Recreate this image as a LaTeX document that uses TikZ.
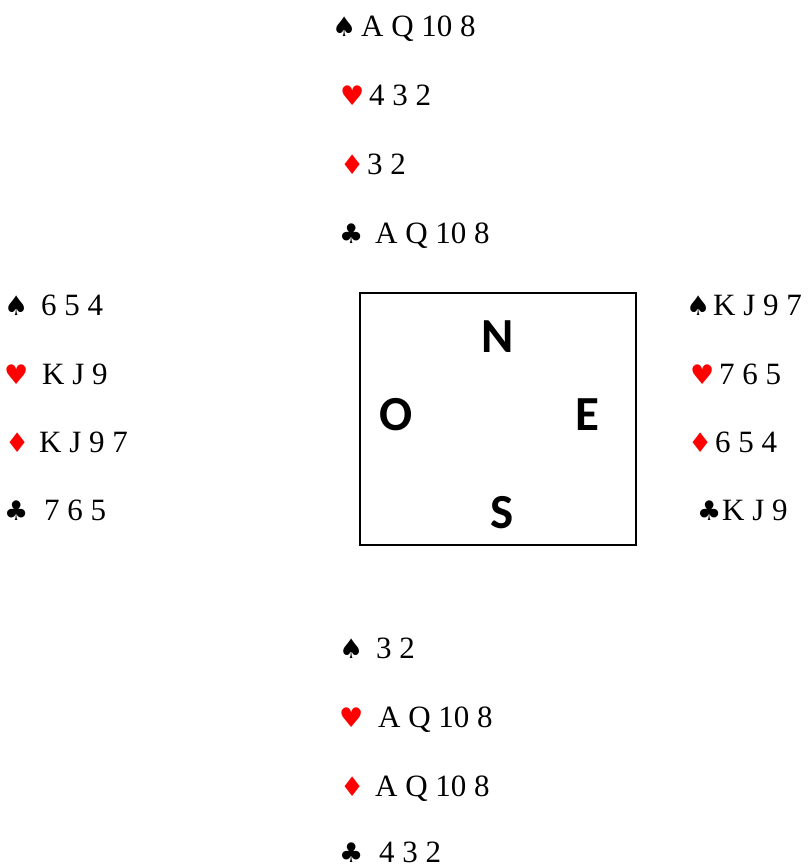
\documentclass[tikz,border=0pt]{standalone}
\usepackage{fontspec}
\setmainfont{Liberation Serif}
\newfontfamily\suitfont{DejaVu Sans}
\newfontfamily\compfont{Carlito}
\tikzset{
  cards/.style={anchor=base west, inner sep=0pt, font=\fontsize{31}{31}\selectfont},
  suit/.style={anchor=base west, inner sep=0pt, font=\suitfont\fontsize{27}{27}\selectfont},
  redsuit/.style={suit, text=red},
  dir/.style={anchor=center, inner sep=0pt, font=\compfont\bfseries\fontsize{49}{49}\selectfont},
  tablebox/.style={draw, line width=1.3pt, minimum width=276pt, minimum height=252pt, inner sep=0pt}
}
\begin{document}
\begin{tikzpicture}[x=1pt,y=-1pt]
\useasboundingbox (0,0) rectangle (808,866);
% North
\node[suit]    (ns) at (332,37) {♠};
\node[cards]   (nsc) at (361,37) {A Q 10 8};
\node[redsuit] (nh) at (340,106) {♥};
\node[cards]   (nhc) at (369,106) {4 3 2};
\node[redsuit] (nd) at (340,175) {♦};
\node[cards]   (ndc) at (367,175) {3 2};
\node[suit]    (nc) at (339,244) {♣};
\node[cards]   (ncc) at (375,244) {A Q 10 8};
% West
\node[suit]    (ws) at (4,315) {♠};
\node[cards]   (wsc) at (41,315) {6 5 4};
\node[redsuit] (wh) at (4,384) {♥};
\node[cards]   (whc) at (42,384) {K J 9};
\node[redsuit] (wd) at (5,452) {♦};
\node[cards]   (wdc) at (39,452) {K J 9 7};
\node[suit]    (wc) at (4,520) {♣};
\node[cards]   (wcc) at (44,520) {7 6 5};
% East
\node[suit]    (es) at (686,315) {♠};
\node[cards]   (esc) at (713,315) {K J 9 7};
\node[redsuit] (eh) at (690,384) {♥};
\node[cards]   (ehc) at (719,384) {7 6 5};
\node[redsuit] (ed) at (688,452) {♦};
\node[cards]   (edc) at (715,452) {6 5 4};
\node[suit]    (ec) at (697,520) {♣};
\node[cards]   (ecc) at (722,520) {K J 9};
% South
\node[suit]    (ss) at (339,658) {♠};
\node[cards]   (ssc) at (376,658) {3 2};
\node[redsuit] (sh) at (339,727) {♥};
\node[cards]   (shc) at (378,727) {A Q 10 8};
\node[redsuit] (sd) at (340,796) {♦};
\node[cards]   (sdc) at (375,796) {A Q 10 8};
\node[suit]    (sc) at (339,862) {♣};
\node[cards]   (scc) at (379,862) {4 3 2};
% Table
\node[tablebox] (table) at (498,419) {};
\node[dir] (dn) at (497.5,337) {N};
\node[dir] (do) at (396,415) {O};
\node[dir] (de) at (587,415) {E};
\node[dir] (dsouth) at (502,513) {S};
\end{tikzpicture}
\end{document}
